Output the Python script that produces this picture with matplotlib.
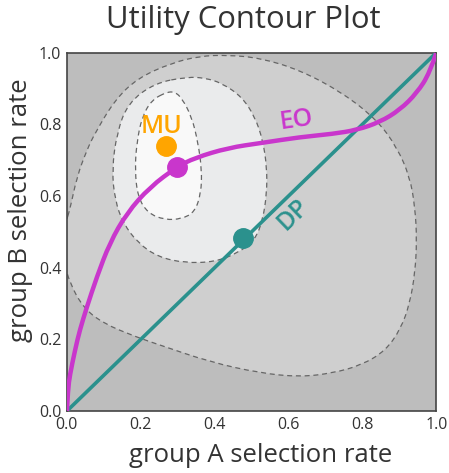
import matplotlib.pyplot as plt
from matplotlib.path import Path
from matplotlib.patches import PathPatch

plt.rcParams['font.family'] = ['Open Sans', 'DejaVu Sans']

# contour outlines (x = group A rate, y = group B rate)
outer_x = [0.008, 0.027, 0.054, 0.076, 0.130, 0.192, 0.284, 0.360, 0.433, 0.522, 0.631,
           0.747, 0.839, 0.893, 0.928, 0.942, 0.947, 0.942, 0.928, 0.904, 0.862, 0.797,
           0.720, 0.631, 0.522, 0.387, 0.252, 0.189, 0.097, 0.043, 0.008, -0.008, -0.011, -0.003]
outer_y = [0.561, 0.653, 0.728, 0.775, 0.868, 0.929, 0.971, 0.990, 0.993, 0.985, 0.951,
           0.887, 0.812, 0.736, 0.653, 0.569, 0.477, 0.385, 0.301, 0.230, 0.168, 0.128,
           0.106, 0.095, 0.106, 0.137, 0.184, 0.206, 0.245, 0.290, 0.357, 0.416, 0.477, 0.527]

middle_x = [0.327, 0.373, 0.419, 0.474, 0.509, 0.530, 0.541, 0.541, 0.530, 0.509, 0.463,
            0.401, 0.319, 0.246, 0.192, 0.152, 0.130, 0.122, 0.135, 0.165, 0.238]
middle_y = [0.932, 0.929, 0.915, 0.876, 0.820, 0.756, 0.681, 0.608, 0.533, 0.477, 0.441,
            0.416, 0.413, 0.430, 0.469, 0.524, 0.589, 0.672, 0.775, 0.859, 0.915]

inner_x = [0.271, 0.292, 0.311, 0.338, 0.355, 0.365, 0.363, 0.346, 0.311, 0.265, 0.219,
           0.192, 0.184, 0.189, 0.203, 0.230]
inner_y = [0.890, 0.890, 0.873, 0.820, 0.748, 0.672, 0.608, 0.555, 0.536, 0.533, 0.552,
           0.597, 0.672, 0.748, 0.820, 0.868]

# equal opportunity curve
eo_x = [0.0, 0.003, 0.008, 0.022, 0.035, 0.054, 0.081, 0.116, 0.162, 0.225, 0.298, 0.346,
        0.436, 0.528, 0.631, 0.720, 0.785, 0.847, 0.901, 0.947, 0.982, 1.0]
eo_y = [0.0, 0.06, 0.100, 0.170, 0.226, 0.290, 0.374, 0.469, 0.552, 0.625, 0.681, 0.706,
        0.734, 0.748, 0.764, 0.773, 0.784, 0.806, 0.840, 0.887, 0.943, 1.0]

# demographic parity line
dp_x = [0.0, 1.0]
dp_y = [0.0, 1.0]

mu_point = (0.268, 0.739)
eo_point = (0.298, 0.681)
dp_point = (0.476, 0.483)

ticks = [0.0, 0.2, 0.4, 0.6, 0.8, 1.0]


def smooth_path(xs, ys, closed=False):
    # quadratic bezier path using the traced points as control points
    pts = list(zip(xs, ys))
    mid = lambda a, b: ((a[0] + b[0]) / 2, (a[1] + b[1]) / 2)
    if closed:
        n = len(pts)
        verts = [mid(pts[-1], pts[0])]
        codes = [Path.MOVETO]
        for i in range(n):
            verts += [pts[i], mid(pts[i], pts[(i + 1) % n])]
            codes += [Path.CURVE3, Path.CURVE3]
        verts.append(verts[0])
        codes.append(Path.CLOSEPOLY)
    else:
        verts = [pts[0]]
        codes = [Path.MOVETO]
        for i in range(1, len(pts) - 2):
            verts += [pts[i], mid(pts[i], pts[i + 1])]
            codes += [Path.CURVE3, Path.CURVE3]
        verts += [pts[-2], pts[-1]]
        codes += [Path.CURVE3, Path.CURVE3]
    return Path(verts, codes)


fig = plt.figure(figsize=(4.49, 4.73), dpi=100)
ax = fig.add_axes([0.149, 0.131, 0.823, 0.758])
ax.set_facecolor('#bdbdbd')

levels = [(outer_x, outer_y, '#cfcfcf'), (middle_x, middle_y, '#eaebec'),
          (inner_x, inner_y, '#f9f9f9')]
for xs, ys, c in levels:
    p = smooth_path(xs, ys, closed=True)
    ax.add_patch(PathPatch(p, facecolor=c, edgecolor='none', zorder=1))
    ax.add_patch(PathPatch(p, facecolor='none', edgecolor='#666666', lw=0.9,
                           ls=(0, (4, 3)), zorder=2))

ax.plot(dp_x, dp_y, color='#2b918d', lw=2.6, zorder=3, solid_capstyle='butt')
ax.add_patch(PathPatch(smooth_path(eo_x, eo_y), facecolor='none', edgecolor='#c936cc',
                       lw=3.2, zorder=4, capstyle='butt'))

ax.plot(*mu_point, 'o', color='#ffa500', ms=14, zorder=5)
ax.plot(*eo_point, 'o', color='#c936cc', ms=14, zorder=5)
ax.plot(*dp_point, 'o', color='#2b918d', ms=14, zorder=5)

ax.text(0.257, 0.795, 'MU', color='#ffa500', fontsize=18, fontweight=600,
        ha='center', va='center', zorder=6)
ax.text(0.622, 0.812, 'EO', color='#c936cc', fontsize=18, fontweight=600,
        ha='center', va='center', rotation=8, zorder=6)
ax.text(0.612, 0.547, 'DP', color='#2b918d', fontsize=18, fontweight=600,
        ha='center', va='center', rotation=44, zorder=6)

ax.set_xlim(0, 1)
ax.set_ylim(0, 1)
ax.set_xticks(ticks)
ax.set_yticks(ticks)
ax.set_xticklabels([f'{t:.1f}' for t in ticks])
ax.set_yticklabels([f'{t:.1f}' for t in ticks])
ax.tick_params(length=0, labelsize=11.5, labelcolor='#333333', pad=4)
for s in ax.spines.values():
    s.set_color('#444444')
    s.set_linewidth(1.2)

ax.set_xlabel('group A selection rate', fontsize=18.5, color='#333333')
ax.xaxis.set_label_coords(0.525, -0.088)
ax.set_ylabel('group B selection rate', fontsize=18.5, color='#333333')
ax.yaxis.set_label_coords(-0.092, 0.56)
ax.set_title('Utility Contour Plot', fontsize=22.3, color='#333333', pad=18, x=0.478)

fig.savefig('out.png', dpi=100)
